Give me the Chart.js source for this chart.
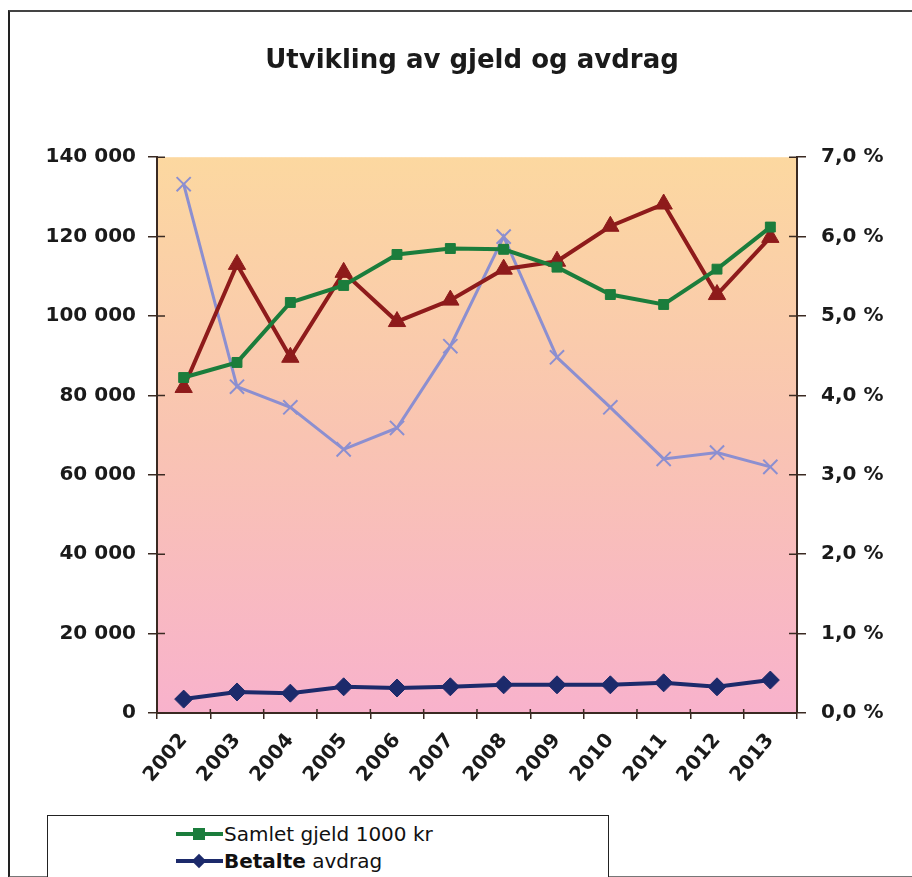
<!DOCTYPE html>
<html lang="no">
<head>
<meta charset="utf-8">
<script src="https://cdn.jsdelivr.net/npm/chart.js@4/dist/chart.umd.min.js"></script>
<style>
  html, body { margin: 0; padding: 0; background: #fff; overflow: hidden; }
  body { width: 912px; height: 877px; position: relative; font-family: "DejaVu Sans", sans-serif; }
  #frame { position: absolute; left: 8px; top: 10px; width: 930px; height: 864px; border-left: 2px solid #222; border-top: 2px solid #444; border-bottom: 2px solid #777; }
  #wrap { position: absolute; left: 0; top: 0; width: 912px; height: 877px; }
  #legend { position: absolute; left: 47px; top: 815px; width: 560px; height: 80px; border: 1.5px solid #222; background: #fff; }
  .item { position: absolute; left: 128px; height: 24px; display: flex; align-items: center; font-size: 20px; color: #111; white-space: nowrap; }
  .sample { position: relative; width: 47px; height: 24px; margin-right: 1px; }
  .sample .ln { position: absolute; left: 0; right: 0; top: 10px; height: 4px; }
  .sample .mk { position: absolute; left: 17px; top: 6px; width: 12px; height: 12px; }
</style>
</head>
<body>
<div id="frame"></div>
<div id="wrap"><canvas id="chart" width="912" height="877"></canvas></div>
<div id="legend">
  <div class="item" style="top:6px">
    <span class="sample"><span class="ln" style="background:#1b7d3c"></span><span class="mk" style="background:#1b7d3c"></span></span>Samlet gjeld 1000 kr
  </div>
  <div class="item" style="top:33px">
    <span class="sample"><span class="ln" style="background:#1c2a6b"></span><span class="mk" style="background:#1c2a6b;transform:rotate(45deg) scale(0.85)"></span></span><b>Betalte</b>&nbsp;avdrag
  </div>
</div>
<script>
const years = ['2002', '2003', '2004', '2005', '2006', '2007', '2008', '2009', '2010', '2011', '2012', '2013'];
const samletGjeld = [84500, 88300, 103400, 107700, 115500, 117000, 116800, 112300, 105400, 102900, 111800, 122400];
const betalteAvdrag = [3500, 5300, 5000, 6600, 6300, 6600, 7100, 7100, 7100, 7600, 6600, 8300];
const avdragProsent = [4.1, 5.65, 4.48, 5.55, 4.93, 5.2, 5.59, 5.69, 6.13, 6.41, 5.27, 5.99];
const rente = [6.66, 4.11, 3.85, 3.32, 3.59, 4.62, 6.0, 4.48, 3.85, 3.2, 3.28, 3.1];

const leftTicks = { min: 0, max: 140000, step: 20000 };
const rightTicks = { min: 0, max: 7, step: 1 };

const palette = {
  gjeld: '#1b7d3c',
  avdrag: '#1c2a6b',
  prosent: '#8e1b1b',
  rente: '#8c8fd0',
  top: '#fcd8a0',
  mid: '#f9c4b2',
  bottom: '#f8b2cc',
  axis: '#3a2a22',
  text: '#1a1a1a'
};

const fontFam = '"DejaVu Sans", sans-serif';
const fmtThousands = v => String(v).replace(/\B(?=(\d{3})+(?!\d))/g, ' ');

// plot background gradient + inner half of tick marks
const plotDecor = {
  id: 'plotDecor',
  beforeDraw(chart) {
    const { ctx, chartArea: a } = chart;
    const g = ctx.createLinearGradient(0, a.top, 0, a.bottom);
    g.addColorStop(0, palette.top);
    g.addColorStop(0.5, palette.mid);
    g.addColorStop(1, palette.bottom);
    ctx.save();
    ctx.fillStyle = g;
    ctx.fillRect(a.left, a.top, a.right - a.left, a.bottom - a.top);
    ctx.restore();
  },
  afterDraw(chart) {
    const { ctx, chartArea: a, scales } = chart;
    ctx.save();
    ctx.strokeStyle = palette.axis;
    ctx.lineWidth = 1.5;
    ctx.beginPath();
    scales.y.ticks.forEach((t, i) => {
      const y = scales.y.getPixelForTick(i);
      ctx.moveTo(a.left, y); ctx.lineTo(a.left + 8, y);
    });
    scales.y1.ticks.forEach((t, i) => {
      const y = scales.y1.getPixelForTick(i);
      ctx.moveTo(a.right, y); ctx.lineTo(a.right - 8, y);
    });
    const n = scales.x.ticks.length;
    for (let i = 0; i <= n; i++) {
      const x = a.left + (a.right - a.left) * i / n;
      ctx.moveTo(x, a.bottom); ctx.lineTo(x, a.bottom - 4);
    }
    ctx.stroke();
    ctx.restore();
  }
};

new Chart(document.getElementById('chart').getContext('2d'), {
  type: 'line',
  data: {
    labels: years,
    datasets: [
      {
        label: 'Samlet gjeld 1000 kr',
        data: samletGjeld,
        yAxisID: 'y',
        borderColor: palette.gjeld,
        backgroundColor: palette.gjeld,
        borderWidth: 4,
        pointStyle: 'rect',
        pointRadius: 7,
        pointBorderWidth: 1,
        tension: 0
      },
      {
        label: 'Betalte avdrag',
        data: betalteAvdrag,
        yAxisID: 'y',
        borderColor: palette.avdrag,
        backgroundColor: palette.avdrag,
        borderWidth: 4,
        pointStyle: 'rectRot',
        pointRadius: 9,
        pointBorderWidth: 1,
        tension: 0
      },
      {
        label: 'Avdrag i % av gjeld',
        data: avdragProsent,
        yAxisID: 'y1',
        borderColor: palette.prosent,
        backgroundColor: palette.prosent,
        borderWidth: 4,
        pointStyle: 'triangle',
        pointRadius: 10,
        pointBorderWidth: 1,
        tension: 0
      },
      {
        label: 'Rentenivå',
        data: rente,
        yAxisID: 'y1',
        borderColor: palette.rente,
        backgroundColor: palette.rente,
        borderWidth: 3,
        pointStyle: 'crossRot',
        pointRadius: 10,
        pointBorderWidth: 2,
        tension: 0
      }
    ]
  },
  options: {
    responsive: false,
    animation: false,
    events: [],
    layout: { padding: { top: 0, left: 32, right: 0, bottom: 0 } },
    plugins: {
      legend: { display: false },
      tooltip: { enabled: false },
      title: {
        display: true,
        text: 'Utvikling av gjeld og avdrag',
        color: palette.text,
        font: { family: fontFam, size: 26, weight: 'bold', lineHeight: 1.2 },
        padding: { top: 46, bottom: 80 }
      }
    },
    scales: {
      x: {
        offset: true,
        grid: { offset: true, drawOnChartArea: false, color: palette.axis, tickLength: 6, lineWidth: 1.5 },
        border: { display: true, color: palette.axis, width: 2 },
        ticks: {
          color: palette.text,
          font: { family: fontFam, size: 20, weight: 'bold' },
          minRotation: 50,
          maxRotation: 50,
          padding: 10
        },
        afterFit: s => { s.height = 164; }
      },
      y: {
        position: 'left',
        min: leftTicks.min,
        max: leftTicks.max,
        grid: { drawOnChartArea: false, color: palette.axis, tickLength: 9, lineWidth: 1.5 },
        border: { display: true, color: palette.axis, width: 2 },
        ticks: {
          stepSize: leftTicks.step,
          color: palette.text,
          font: { family: fontFam, size: 20, weight: 'bold' },
          padding: 12,
          callback: v => fmtThousands(v)
        },
        afterFit: s => { s.width = 125; }
      },
      y1: {
        position: 'right',
        min: rightTicks.min,
        max: rightTicks.max,
        grid: { drawOnChartArea: false, color: palette.axis, tickLength: 9, lineWidth: 1.5 },
        border: { display: true, color: palette.axis, width: 2 },
        ticks: {
          stepSize: rightTicks.step,
          color: palette.text,
          font: { family: fontFam, size: 20, weight: 'bold' },
          padding: 15,
          callback: v => v.toFixed(1).replace('.', ',') + ' %'
        },
        afterFit: s => { s.width = 115; }
      }
    }
  },
  plugins: [plotDecor]
});
</script>
</body>
</html>
